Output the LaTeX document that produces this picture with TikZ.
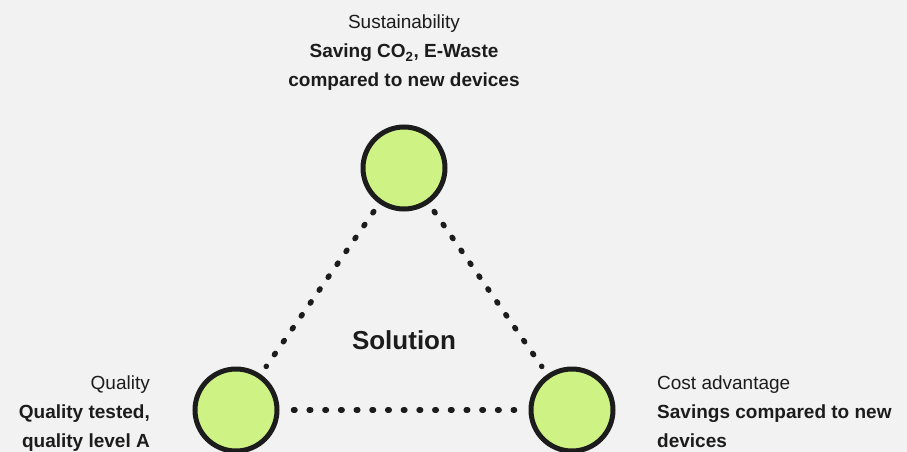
\documentclass[tikz,border=0pt]{standalone}
\usepackage{fontspec}
\setmainfont{Liberation Sans}
\usetikzlibrary{positioning}
\definecolor{bgGrey}{HTML}{F2F2F2}
\definecolor{ink}{HTML}{1C1C1C}
\definecolor{lime}{HTML}{CFF285}
\begin{document}
\begin{tikzpicture}[x=1pt,y=-1pt,
		pillar/.style={circle,draw=ink,line width=5pt,fill=lime,minimum size=82pt,inner sep=0pt},
		link/.style={ink,line width=5.5pt,line cap=round,dash pattern=on 1.5pt off 14.2pt,shorten <=9.5pt,shorten >=9.5pt},
		lbl/.style={font=\fontsize{19}{29}\selectfont,text=ink,inner sep=0pt}]
		\useasboundingbox[fill=bgGrey] (0,0) rectangle (907,452);
		% the three pillars
		\node[pillar] (sus) at (404,168) {};
		\node[pillar] (qual) at (236,410) {};
		\node[pillar] (cost) at (572,410) {};
		\draw[link] (sus) -- (qual);
		\draw[link] (sus) -- (cost);
		\draw[link,shorten <=14pt,shorten >=14pt] (qual) -- (cost);
		\node[font=\fontsize{26}{30}\selectfont\bfseries,text=ink] (sol) at (404,340) {Solution};
		% labels
		\node[lbl,align=center,anchor=north] (susText) at (404,15) {Sustainability\\\textbf{Saving CO\textsubscript{2}, E-Waste}\\\textbf{compared to new devices}};
		\node[lbl,align=right,anchor=north east] (qualText) at (150,376) {Quality\\\textbf{Quality tested,}\\\textbf{quality level A}};
		\node[lbl,align=left,anchor=north west] (costText) at (657,376) {Cost advantage\\\textbf{Savings compared to new}\\\textbf{devices}};
\end{tikzpicture}
\end{document}
